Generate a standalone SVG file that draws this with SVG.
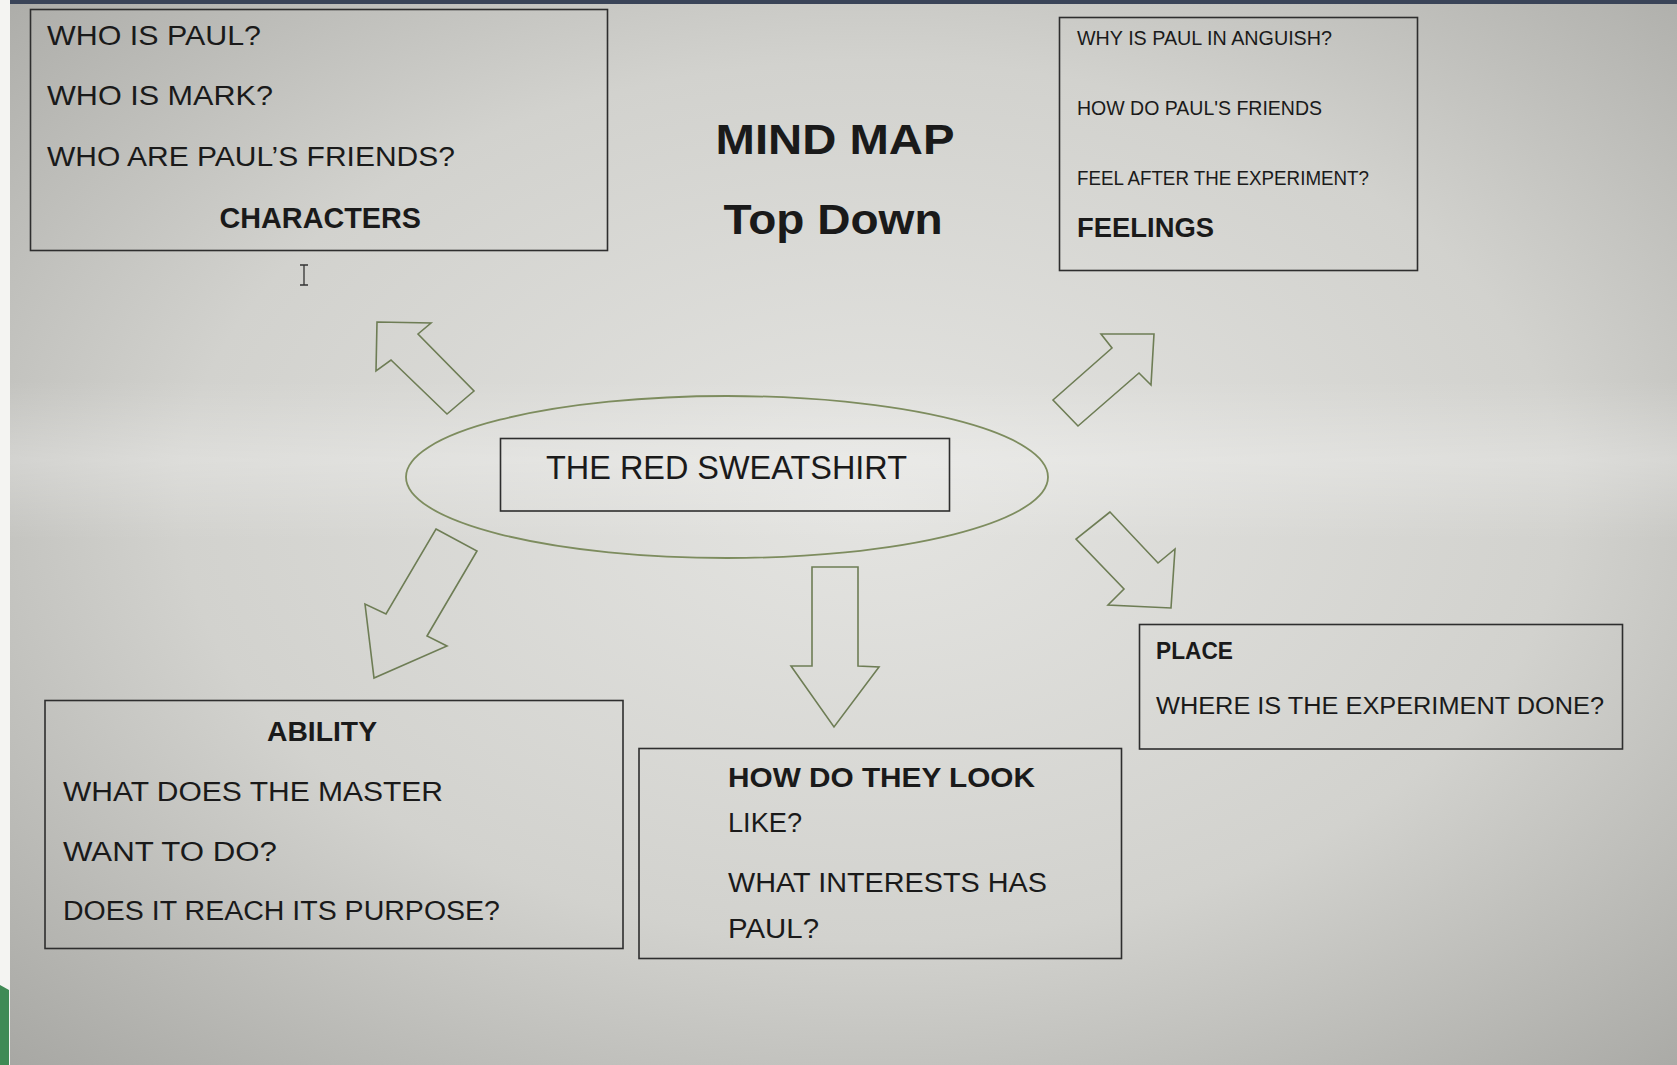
<svg xmlns="http://www.w3.org/2000/svg" width="1677" height="1065" viewBox="0 0 1677 1065">
<defs>
<radialGradient id="bg" cx="0.52" cy="0.47" r="0.75">
<stop offset="0" stop-color="#e4e4e1"/>
<stop offset="0.55" stop-color="#d2d2ce"/>
<stop offset="1" stop-color="#a6a6a2"/>
</radialGradient>
<linearGradient id="glare" x1="0" y1="0" x2="0" y2="1">
<stop offset="0" stop-color="#ffffff" stop-opacity="0"/>
<stop offset="0.5" stop-color="#ffffff" stop-opacity="0.25"/>
<stop offset="1" stop-color="#ffffff" stop-opacity="0"/>
</linearGradient>
<style>
.box{fill:none;stroke:#2e2e2e;stroke-width:1.6}
.t{font-family:"Liberation Sans",Arial,sans-serif;fill:#1a1a1a}
.b{font-weight:bold}
.arrow{fill:none;stroke:#6e7d55;stroke-width:1.6;stroke-linejoin:miter}
.ell{fill:none;stroke:#7d8c5e;stroke-width:1.8}
</style>
</defs>
<rect width="1677" height="1065" fill="url(#bg)"/>
<rect x="0" y="380" width="1677" height="160" fill="url(#glare)"/>
<rect x="0" y="0" width="10" height="1065" fill="#f4f4f2"/>
<path d="M0 985 L9 990 L9 1065 L0 1065 Z" fill="#3f8a55"/>
<rect x="10" y="0" width="1667" height="4" fill="#3a4458"/>

<g id="title">
<text class="t b" x="835" y="154" font-size="43" text-anchor="middle" textLength="239" lengthAdjust="spacingAndGlyphs">MIND MAP</text>
<text class="t b" x="833" y="234" font-size="43" text-anchor="middle" textLength="219" lengthAdjust="spacingAndGlyphs">Top Down</text>
</g>

<g id="characters">
<rect class="box" x="30.5" y="9.5" width="577" height="241"/>
<text class="t" x="47" y="45" font-size="28" textLength="214" lengthAdjust="spacingAndGlyphs">WHO IS PAUL?</text>
<text class="t" x="47" y="105" font-size="28" textLength="226" lengthAdjust="spacingAndGlyphs">WHO IS MARK?</text>
<text class="t" x="47" y="166" font-size="28" textLength="408" lengthAdjust="spacingAndGlyphs">WHO ARE PAUL’S FRIENDS?</text>
<text class="t b" x="219.5" y="228" font-size="29" textLength="201.5" lengthAdjust="spacingAndGlyphs">CHARACTERS</text>
</g>

<path d="M300 265 h8 M304 265 v20 M300 285 h8" fill="none" stroke="#333" stroke-width="1.3"/>

<g id="feelings">
<rect class="box" x="1059.5" y="17.5" width="358" height="253"/>
<text class="t" x="1077" y="45" font-size="20" textLength="255" lengthAdjust="spacingAndGlyphs">WHY IS PAUL IN ANGUISH?</text>
<text class="t" x="1077" y="115" font-size="20" textLength="245" lengthAdjust="spacingAndGlyphs">HOW DO PAUL'S FRIENDS</text>
<text class="t" x="1077" y="185" font-size="20" textLength="292" lengthAdjust="spacingAndGlyphs">FEEL AFTER THE EXPERIMENT?</text>
<text class="t b" x="1077" y="237" font-size="28" textLength="137" lengthAdjust="spacingAndGlyphs">FEELINGS</text>
</g>

<g id="center">
<ellipse class="ell" cx="727" cy="477" rx="321" ry="81"/>
<rect class="box" x="500.5" y="438.5" width="449" height="72.5"/>
<text class="t" x="546" y="479" font-size="33" textLength="361" lengthAdjust="spacingAndGlyphs">THE RED SWEATSHIRT</text>
</g>

<g id="ability">
<rect class="box" x="45" y="700.5" width="578" height="248"/>
<text class="t b" x="267" y="741" font-size="28" textLength="110" lengthAdjust="spacingAndGlyphs">ABILITY</text>
<text class="t" x="63" y="801" font-size="27" textLength="380" lengthAdjust="spacingAndGlyphs">WHAT DOES THE MASTER</text>
<text class="t" x="63" y="861" font-size="27" textLength="214" lengthAdjust="spacingAndGlyphs">WANT TO DO?</text>
<text class="t" x="63" y="920" font-size="27" textLength="437" lengthAdjust="spacingAndGlyphs">DOES IT REACH ITS PURPOSE?</text>
</g>

<g id="appearance">
<rect class="box" x="639" y="748.5" width="482.5" height="210"/>
<text class="t b" x="728" y="787" font-size="27" textLength="307" lengthAdjust="spacingAndGlyphs">HOW DO THEY LOOK</text>
<text class="t" x="728" y="832" font-size="27" textLength="74" lengthAdjust="spacingAndGlyphs">LIKE?</text>
<text class="t" x="728" y="892" font-size="27" textLength="319" lengthAdjust="spacingAndGlyphs">WHAT INTERESTS HAS</text>
<text class="t" x="728" y="938" font-size="27" textLength="91" lengthAdjust="spacingAndGlyphs">PAUL?</text>
</g>

<g id="place">
<rect class="box" x="1139.5" y="624.5" width="483" height="124.5"/>
<text class="t b" x="1156" y="659" font-size="23" textLength="77" lengthAdjust="spacingAndGlyphs">PLACE</text>
<text class="t" x="1156" y="714" font-size="23" textLength="448" lengthAdjust="spacingAndGlyphs">WHERE IS THE EXPERIMENT DONE?</text>
</g>

<g id="connectors">
<polygon class="arrow" points="377,322 431,323 418,334 474,391 447,414 391,360 376,371"/>
<polygon class="arrow" points="1101,334 1154,334 1151,385 1139,373 1078,426 1053,400 1112,348"/>
<polygon class="arrow" points="436,529 477,551 427,636 447,646 374,678 365,604 386,614"/>
<polygon class="arrow" points="1110,512 1076,539 1124,589 1108,605 1171,608 1175,549 1158,563"/>
<polygon class="arrow" points="812,567 858,567 858,666 879,667 834,727 791,666 812,666"/>
</g>
</svg>
